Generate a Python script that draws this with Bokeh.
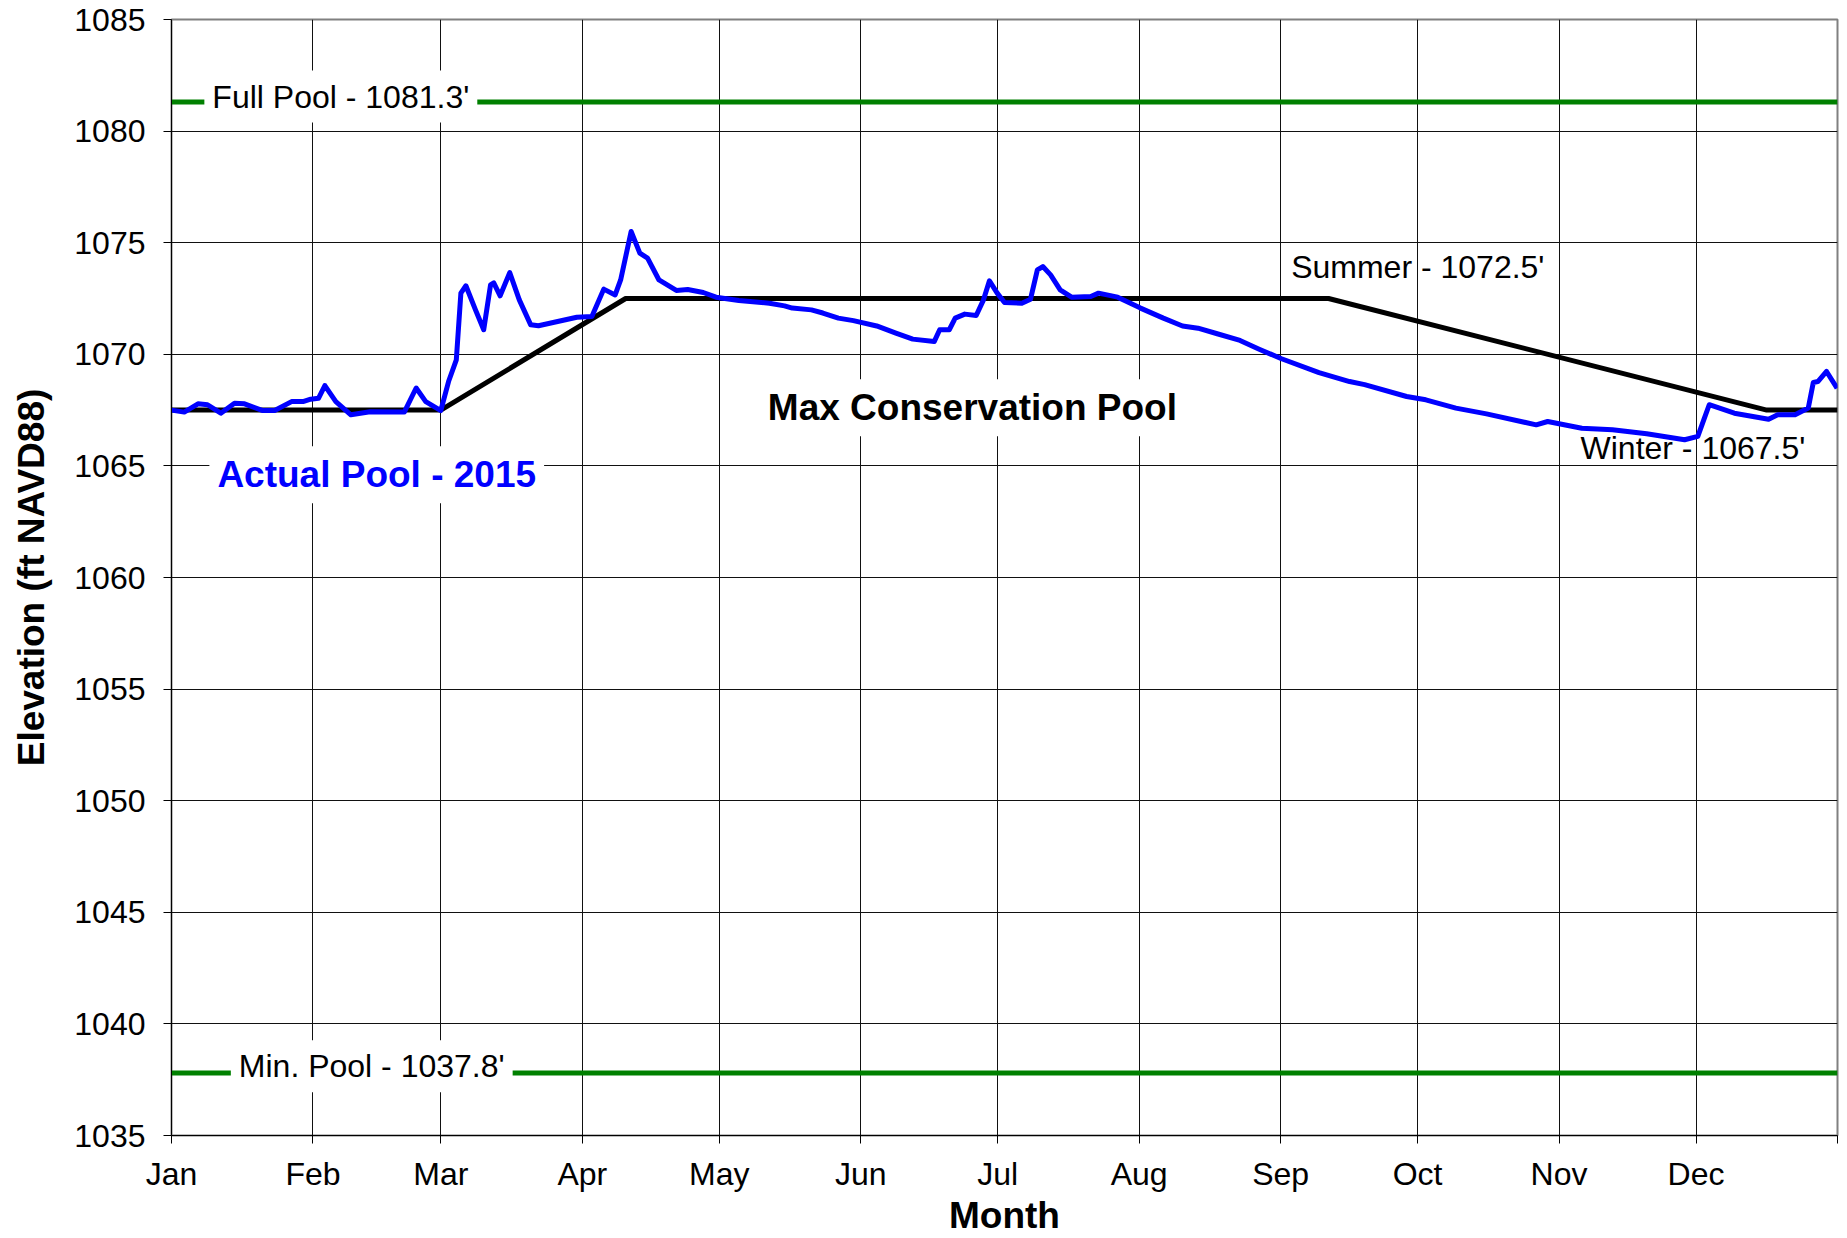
from bokeh.plotting import figure
from bokeh.models import Label, FixedTicker, Range1d
from bokeh.embed import file_html
from bokeh.resources import INLINE

# ---------------- data ----------------
month_names = ["Jan", "Feb", "Mar", "Apr", "May", "Jun",
               "Jul", "Aug", "Sep", "Oct", "Nov", "Dec"]
month_start_days = [0, 31, 59, 90, 120, 151, 181, 212, 243, 273, 304, 334]
year_end_day = 365
y_ticks = [1035, 1040, 1045, 1050, 1055, 1060, 1065, 1070, 1075, 1080, 1085]

full_pool = 1081.3
min_pool = 1037.8

# Max conservation pool (rule curve)
rule_days = [0, 59, 99.5, 253.5, 349.5, 365]
rule_elev = [1067.5, 1067.5, 1072.5, 1072.5, 1067.5, 1067.5]

# Actual pool 2015 (day of year, elevation)
actual_days = [0, 2.8, 5.8, 7.9, 10.8, 13.8, 16, 20, 22.6, 26.3, 28.8, 30.5, 32.2,
               33.6, 36, 39.3, 43.5, 51, 53.6, 55.7, 59, 60.7, 62.4, 63.4, 64.5,
               66.6, 68.4, 69.9, 70.6, 72, 74.1, 76.2, 78.7, 80.4, 84.6, 88.8,
               92.1, 94.7, 97.2, 98.4, 100.7, 102.6, 104.3, 106.8, 110.6, 113.1,
               116.5, 119.3, 124.3, 131, 134.3, 136, 140.2, 142.7, 146.1, 149.4,
               154.5, 158.7, 162.4, 167.1, 168.3, 170.4, 171.7, 173.8, 176.3,
               177.9, 179.2, 180.9, 182.5, 186.3, 188.2, 189.7, 190.9, 192.6,
               194.7, 197.2, 201.4, 203.1, 207.3, 212.3, 217.3, 221.5, 224.9,
               229.1, 234.1, 238.3, 243.2, 251.4, 258.1, 261.4, 270.6, 274.8,
               281.4, 288.1, 299, 301.5, 309, 315.7, 323.2, 331.5, 334.4, 335.7,
               336.9, 342.4, 349.9, 351.9, 355.7, 358.6, 359.7, 360.7, 362.6, 364.9]
actual_elev = [1067.5, 1067.41, 1067.78, 1067.74, 1067.36, 1067.81, 1067.78, 1067.48,
               1067.48, 1067.88, 1067.88, 1067.99, 1068.03, 1068.6, 1067.88, 1067.29,
               1067.43, 1067.41, 1068.49, 1067.88, 1067.48, 1068.78, 1069.75, 1072.74,
               1073.07, 1071.99, 1071.1, 1073.11, 1073.2, 1072.62, 1073.66, 1072.44,
               1071.32, 1071.28, 1071.47, 1071.66, 1071.69, 1072.92, 1072.66, 1073.33,
               1075.5, 1074.53, 1074.31, 1073.33, 1072.86, 1072.9, 1072.77, 1072.56,
               1072.41, 1072.29, 1072.17, 1072.07, 1071.99, 1071.85, 1071.62, 1071.51,
               1071.27, 1070.95, 1070.68, 1070.57, 1071.1, 1071.1, 1071.62, 1071.8,
               1071.74, 1072.44, 1073.29, 1072.74, 1072.32, 1072.29, 1072.47, 1073.78,
               1073.93, 1073.56, 1072.89, 1072.56, 1072.59, 1072.74, 1072.56, 1072.07,
               1071.62, 1071.27, 1071.17, 1070.92, 1070.62, 1070.23, 1069.8, 1069.18,
               1068.78, 1068.64, 1068.11, 1067.96, 1067.59, 1067.33, 1066.84, 1066.99,
               1066.69, 1066.62, 1066.44, 1066.17, 1066.32, 1067.06, 1067.74, 1067.36,
               1067.09, 1067.29, 1067.29, 1067.59, 1068.74, 1068.78, 1069.23, 1068.48]

# ---------------- figure ----------------
FONT = "Liberation Sans"

p = figure(frame_width=1666, frame_height=1116,
           x_range=Range1d(0, year_end_day), y_range=Range1d(y_ticks[0], y_ticks[-1]),
           output_backend="svg", toolbar_location=None,
           min_border_left=171, min_border_top=19, min_border_right=2,
           min_border_bottom=92, background_fill_color="white",
           border_fill_color="white")

p.outline_line_color = "#808080"
p.outline_line_width = 2

x_tick_vals = month_start_days + [year_end_day]
overrides = {d: m for d, m in zip(month_start_days, month_names)}
overrides[year_end_day] = ""

p.xaxis.ticker = FixedTicker(ticks=x_tick_vals)
p.xaxis.major_label_overrides = overrides
p.yaxis.ticker = FixedTicker(ticks=y_ticks)
p.xgrid.ticker = FixedTicker(ticks=x_tick_vals)
p.ygrid.ticker = FixedTicker(ticks=y_ticks)

for g in (p.xgrid, p.ygrid):
    g.grid_line_color = "#111111"
    g.grid_line_width = 1

for ax in (p.xaxis, p.yaxis):
    ax.axis_line_color = "black"
    ax.axis_line_width = 1
    ax.major_tick_line_color = "black"
    ax.major_tick_in = 0
    ax.major_tick_out = 8
    ax.minor_tick_line_color = None
    ax.major_label_text_font = FONT
    ax.major_label_text_font_size = "32px"
    ax.major_label_text_color = "black"
    ax.axis_label_text_font = FONT
    ax.axis_label_text_font_style = "bold"
    ax.axis_label_text_color = "black"
    ax.axis_label_text_font_size = "37px"

p.xaxis.axis_label = "Month"
p.xaxis.major_label_standoff = 12
p.xaxis.axis_label_standoff = 0
p.yaxis.axis_label = "Elevation (ft NAVD88)"
p.yaxis.major_label_standoff = 18
p.yaxis.axis_label_standoff = 19

# reference lines
p.line([0, year_end_day], [full_pool, full_pool], line_color="#008000", line_width=5)
p.line([0, year_end_day], [min_pool, min_pool], line_color="#008000", line_width=5)

# rule curve and actual pool
p.line(rule_days, rule_elev, line_color="black", line_width=5, line_join="round")
p.line(actual_days, actual_elev, line_color="#0000FF", line_width=5, line_join="round")

# ---------------- labels ----------------
def add_label(x, y, text, size="32px", style="normal", color="black", bg=True):
    kw = dict(x=x, y=y, text=text, text_font=FONT, text_font_size=size,
              text_font_style=style, text_color=color, text_baseline="middle",
              text_align="left")
    if bg:
        kw.update(background_fill_color="white", padding=8)
    p.add_layout(Label(**kw))

add_label(7.2, 1081.55, "Full Pool - 1081.3'")
add_label(13.0, 1038.1, "Min. Pool - 1037.8'")
add_label(8.3, 1064.6, "Actual Pool - 2015", size="37px", style="bold", color="#0000FF")
add_label(128.9, 1067.6, "Max Conservation Pool", size="37px", style="bold")
add_label(245.3, 1073.9, "Summer - 1072.5'", bg=False)
add_label(308.7, 1065.8, "Winter - 1067.5'", bg=False)

open("out.html", "w").write(file_html(p, INLINE))
